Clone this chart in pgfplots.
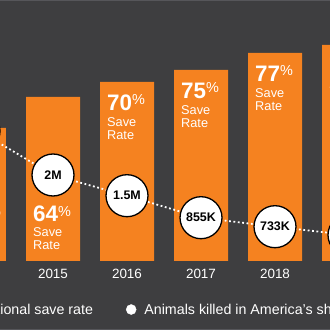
\documentclass[border=0pt]{standalone}
\usepackage{pgfplots}
\pgfplotsset{compat=1.18}
\usepackage{fontspec}
\setmainfont{Liberation Sans}
\definecolor{bg}{HTML}{3E3E40}
\definecolor{edgec}{HTML}{56565A}
\definecolor{barc}{HTML}{F58220}

\newcommand{\pct}[1]{{\fontsize{22.5}{22.5}\selectfont\bfseries #1}\raisebox{5.5bp}{\fontsize{14.5}{14.5}\selectfont\%}}
\newcommand{\toplabel}[3]{%
 \node[anchor=base west,inner sep=0pt,text=white,xshift=-20bp,yshift=-28bp] at (axis cs:#1,#2) {\pct{#3}};
 \node[anchor=base west,inner sep=0pt,text=white,font=\fontsize{12.8}{12.8}\selectfont,xshift=-20bp,yshift=-44bp] at (axis cs:#1,#2) {Save};
 \node[anchor=base west,inner sep=0pt,text=white,font=\fontsize{12.8}{12.8}\selectfont,xshift=-20bp,yshift=-57bp] at (axis cs:#1,#2) {Rate};
}
\newcommand{\botlabel}[3]{%
 \node[anchor=base west,inner sep=0pt,text=white,xshift=#3,yshift=39bp] at (axis cs:#1,0) {\pct{#2}};
 \node[anchor=base west,inner sep=0pt,text=white,font=\fontsize{12.8}{12.8}\selectfont,xshift=#3,yshift=24.5bp] at (axis cs:#1,0) {Save};
 \node[anchor=base west,inner sep=0pt,text=white,font=\fontsize{12.8}{12.8}\selectfont,xshift=#3,yshift=11.5bp] at (axis cs:#1,0) {Rate};
}

\pgfplotsset{base/.style={
  width=330bp, height=330bp, scale only axis,
  at={(0,0)}, anchor=south west,
  xmin=2014.283784, xmax=2018.743243,
  ymin=-69, ymax=261,
  axis line style={draw=none},
  ytick=\empty, major tick length=0pt,
  clip=false,
}}

\begin{document}
\begin{tikzpicture}
\useasboundingbox (0,0) rectangle (330bp,330bp);
\fill[bg] (0,0) rectangle (330bp,330bp);
\clip (0,0) rectangle (330bp,330bp);
\begin{axis}[base,
  xtick={2014,2015,2016,2017,2018,2019},
  xticklabels={2014,2015,2016,2017,2018,2019},
  xticklabel style={anchor=base, yshift=51bp, text=white, font=\fontsize{13.5}{13.5}\selectfont},
  legend style={at={(rel axis cs:0.28788,0.03636)}, anchor=south east, draw=none, fill=none,
    inner sep=0pt, outer sep=0pt, text=white, font=\fontsize{14.3}{14.3}\selectfont,
    cells={anchor=base west, inner sep=0pt}},
]
\addplot[forget plot, ybar, bar width=54bp, bar shift=0pt, fill=barc, draw=none]
  coordinates {(2014,133) (2015,164) (2016,179) (2017,191) (2018,208) (2019,216)};
\addlegendimage{legend image code/.code={\fill[barc] (0bp,0bp) rectangle (12bp,12bp); \path (19bp,0bp) -- (19bp,0bp);}}
\addlegendentry{National save rate}
\botlabel{2014}{56}{-16bp}
\botlabel{2015}{64}{-20bp}
\toplabel{2016}{179}{70}
\toplabel{2017}{191}{75}
\toplabel{2018}{208}{77}
\toplabel{2019}{216}{79}
\end{axis}
\begin{axis}[base,
  xtick=\empty,
  legend style={at={(rel axis cs:0.38182,0.03636)}, anchor=south west, draw=none, fill=none,
    inner sep=0pt, outer sep=0pt, text=white, font=\fontsize{14.3}{14.3}\selectfont,
    cells={anchor=base west, inner sep=0pt}},
]
\addplot[forget plot, white, line width=1.8bp, dash pattern=on 1.8bp off 2.6bp]
  coordinates {(2014,130) (2015,86) (2016,65.3) (2017,43.3) (2018,34.3) (2019,26)};
\addplot[forget plot, only marks, mark=*, mark size=21bp,
  mark options={fill=white, draw=black, line width=1.3bp, solid},
  point meta=explicit symbolic, nodes near coords, nodes near coords align=center,
  every node near coord/.append style={font=\fontsize{12.5}{12.5}\selectfont\bfseries, text=black}]
  coordinates {(2014,130) [2.6M] (2015,86) [2M] (2016,65.3) [1.5M] (2017,43.3) [855K] (2018,34.3) [733K] (2019,26) [625K]};
\addlegendimage{legend image code/.code={\fill[white] (5bp,5bp) circle (5bp); \path (16bp,0bp) -- (16bp,0bp);}}
\addlegendentry{Animals killed in America’s shelters}
\end{axis}
\fill[edgec] (0,329bp) rectangle (330bp,330bp);
\fill[edgec] (0,0) rectangle (330bp,1bp);
\end{tikzpicture}
\end{document}
